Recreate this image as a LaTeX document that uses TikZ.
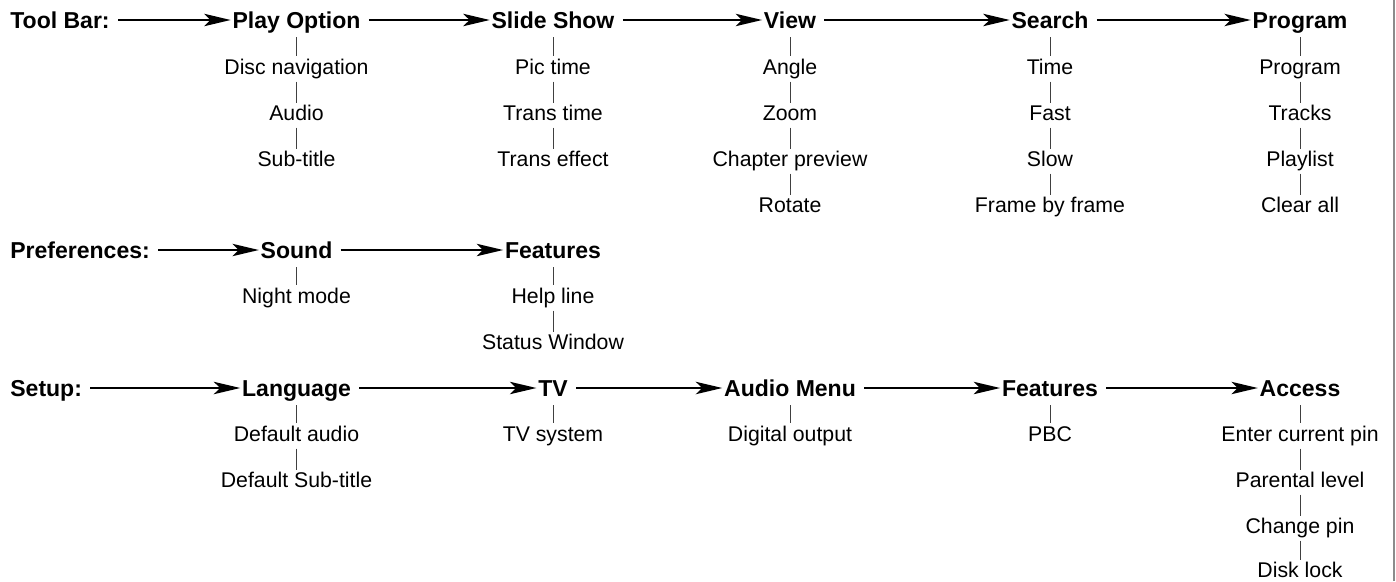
\documentclass[tikz,border=0pt]{standalone}
\usepackage{fontspec}
\setmainfont{Liberation Sans}
\usetikzlibrary{arrows.meta}

\begin{document}
\begin{tikzpicture}[x=1cm,y=1cm,head/.style={font=\fontsize{13.1}{15}\selectfont\bfseries,inner sep=0pt,text height=.33cm,text depth=0pt},item/.style={font=\fontsize{12.1}{14}\selectfont,inner sep=0pt,text height=.31cm,text depth=0pt},nx/.style={-{Stealth[length=15pt,width=7pt,inset=3.5pt]},line width=1.4pt,shorten <=.16cm,shorten >=.03cm},down/.style={line width=.5pt,draw=black!75,shorten <=.17cm,shorten >=.06cm},sub/.style={line width=.5pt,draw=black!75,shorten <=.13cm,shorten >=.03cm}]
\useasboundingbox (0,0) rectangle (27.92,11.62);
\draw[line width=1.1pt,black!45](27.88,0)--(27.88,11.62);

\node[head,anchor=west] (tb) at(.2,11.22) {Tool Bar:};
\node[head] (play) at(5.93,11.22) {Play Option};
\node[head] (slide) at(11.06,11.22) {Slide Show};
\node[head] (view) at(15.8,11.22) {View};
\node[head] (search) at(21.0,11.22) {Search};
\node[head] (prog) at(26.0,11.22) {Program};
\draw[nx](tb)--(play);\draw[nx](play)--(slide);\draw[nx](slide)--(view);\draw[nx](view)--(search);\draw[nx](search)--(prog);

\node[item] (play1) at(5.93,10.28) {Disc navigation};
\node[item] (play2) at(5.93,9.36) {Audio};
\node[item] (play3) at(5.93,8.44) {Sub-title};
\draw[down](play)--(play1);\draw[sub](play1)--(play2);\draw[sub](play2)--(play3);

\node[item] (slide1) at(11.06,10.28) {Pic time};
\node[item] (slide2) at(11.06,9.36) {Trans time};
\node[item] (slide3) at(11.06,8.44) {Trans effect};
\draw[down](slide)--(slide1);\draw[sub](slide1)--(slide2);\draw[sub](slide2)--(slide3);

\node[item] (view1) at(15.8,10.28) {Angle};
\node[item] (view2) at(15.8,9.36) {Zoom};
\node[item] (view3) at(15.8,8.44) {Chapter preview};
\node[item] (view4) at(15.8,7.52) {Rotate};
\draw[down](view)--(view1);\draw[sub](view1)--(view2);\draw[sub](view2)--(view3);\draw[sub](view3)--(view4);

\node[item] (search1) at(21.0,10.28) {Time};
\node[item] (search2) at(21.0,9.36) {Fast};
\node[item] (search3) at(21.0,8.44) {Slow};
\node[item] (search4) at(21.0,7.52) {Frame by frame};
\draw[down](search)--(search1);\draw[sub](search1)--(search2);\draw[sub](search2)--(search3);\draw[sub](search3)--(search4);

\node[item] (prog1) at(26.0,10.28) {Program};
\node[item] (prog2) at(26.0,9.36) {Tracks};
\node[item] (prog3) at(26.0,8.44) {Playlist};
\node[item] (prog4) at(26.0,7.52) {Clear all};
\draw[down](prog)--(prog1);\draw[sub](prog1)--(prog2);\draw[sub](prog2)--(prog3);\draw[sub](prog3)--(prog4);

\node[head,anchor=west] (pref) at(.2,6.62) {Preferences:};
\node[head] (sound) at(5.93,6.62) {Sound};
\node[head] (feat) at(11.06,6.62) {Features};
\draw[nx](pref)--(sound);\draw[nx](sound)--(feat);
\node[item] (sound1) at(5.93,5.7) {Night mode};
\node[item] (feat1) at(11.06,5.7) {Help line};
\node[item] (feat2) at(11.06,4.78) {Status Window};
\draw[down](sound)--(sound1);\draw[down](feat)--(feat1);\draw[sub](feat1)--(feat2);

\node[head,anchor=west] (setup) at(.2,3.86) {Setup:};
\node[head] (lang) at(5.93,3.86) {Language};
\node[head] (tv) at(11.06,3.86) {TV};
\node[head] (amenu) at(15.8,3.86) {Audio Menu};
\node[head] (sfeat) at(21.0,3.86) {Features};
\node[head] (access) at(26.0,3.86) {Access};
\draw[nx](setup)--(lang);\draw[nx](lang)--(tv);\draw[nx](tv)--(amenu);\draw[nx](amenu)--(sfeat);\draw[nx](sfeat)--(access);

\node[item] (lang1) at(5.93,2.94) {Default audio};
\node[item] (lang2) at(5.93,2.02) {Default Sub-title};
\node[item] (tv1) at(11.06,2.94) {TV system};
\node[item] (amenu1) at(15.8,2.94) {Digital output};
\node[item] (sfeat1) at(21.0,2.94) {PBC};
\draw[down](lang)--(lang1);\draw[sub](lang1)--(lang2);\draw[down](tv)--(tv1);\draw[down](amenu)--(amenu1);\draw[down](sfeat)--(sfeat1);

\node[item] (access1) at(26.0,2.94) {Enter current pin};
\node[item] (access2) at(26.0,2.02) {Parental level};
\node[item] (access3) at(26.0,1.1) {Change pin};
\node[item] (access4) at(26.0,.22) {Disk lock};
\draw[down](access)--(access1);\draw[sub](access1)--(access2);\draw[sub](access2)--(access3);\draw[sub](access3)--(access4);
\end{tikzpicture}
\end{document}
